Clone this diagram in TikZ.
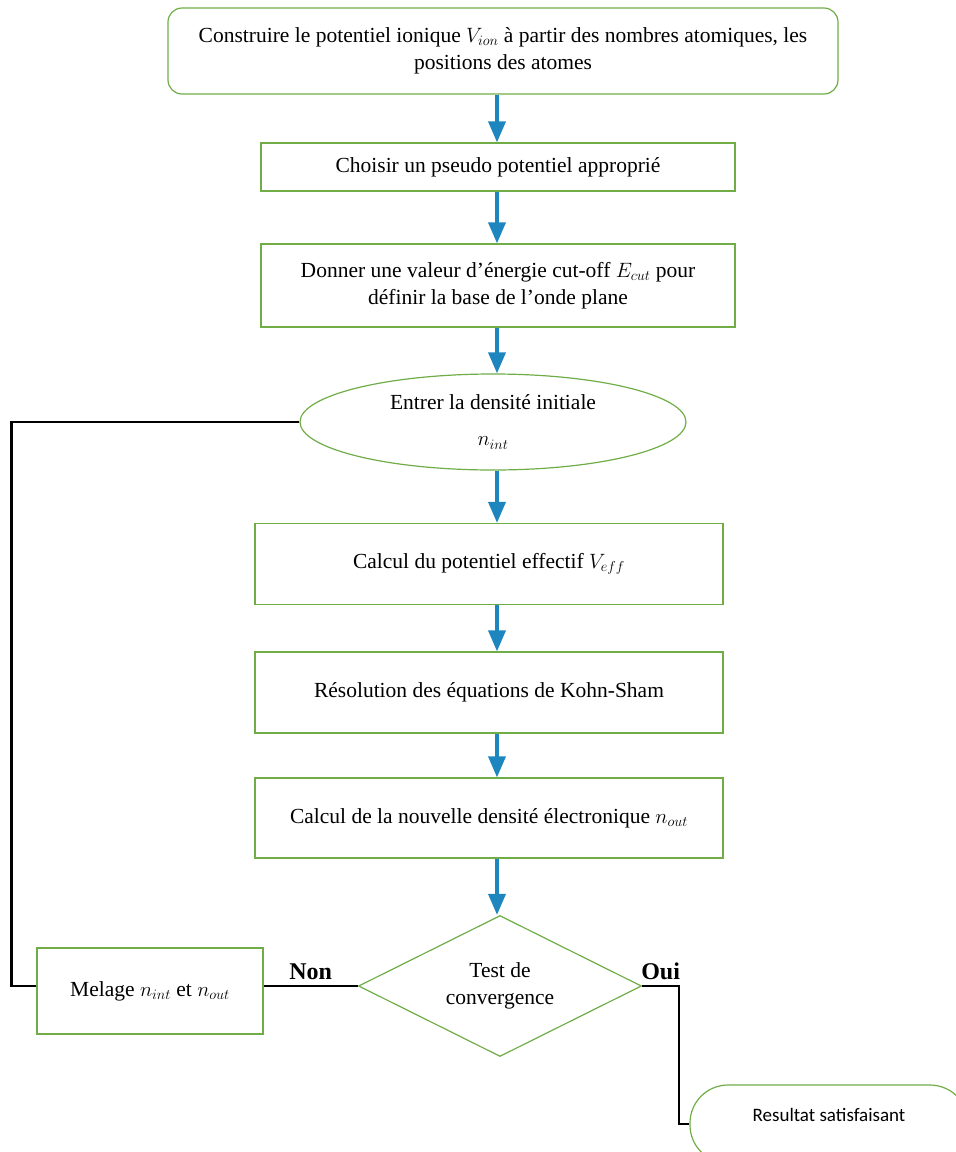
\documentclass[tikz,border=0pt]{standalone}
\usepackage{fontspec}
\setmainfont{Liberation Serif}
\newfontfamily\calibri{Carlito}
\usetikzlibrary{shapes.geometric}
\usetikzlibrary{arrows.meta}

\definecolor{boxgreen}{RGB}{112,173,71}
\definecolor{flowblue}{RGB}{30,134,190}

\tikzset{
  stepbox/.style={draw=boxgreen, line width=1.2pt, fill=white, align=center,
    minimum width=468pt, minimum height=81pt, font=\fontsize{21.5}{27}\selectfont},
  flow/.style={draw=flowblue, line width=3.5pt, -{Triangle[width=17pt,length=21pt]}},
  loopline/.style={draw=black, line width=2.6pt},
  answer/.style={above=2pt, font=\bfseries\fontsize{24}{26}\selectfont}
}

\begin{document}
\begin{tikzpicture}[x=1pt, y=-1pt]
% frame
\clip (0,0) rectangle (956,1152);
\coordinate (col) at (497,0);

% steps
\node[stepbox, rounded corners=14pt, minimum width=670pt, minimum height=86pt] (vion) at (503,51)
  {Construire le potentiel ionique $V_{ion}$ à partir des nombres atomiques, les\\ positions des atomes};
\node[stepbox, minimum width=474pt, minimum height=48pt] (pseudo) at (498,167)
  {Choisir un pseudo potentiel approprié};
\node[stepbox, minimum width=474pt, minimum height=83pt] (ecut) at (498,285.5)
  {Donner une valeur d'énergie cut-off $E_{cut}$ pour\\ définir la base de l'onde plane};
\node[stepbox, ellipse, minimum width=386pt, minimum height=96pt, font=\fontsize{21.5}{36}\selectfont] (nint) at (493,422)
  {Entrer la densité initiale\\ $n_{int}$};
\node[stepbox] (veff) at (489,564) {Calcul du potentiel effectif $V_{eff}$};
\node[stepbox] (kohn) at (489,692.5) {Résolution des équations de Kohn-Sham};
\node[stepbox, minimum height=80pt] (nout) at (489,818)
  {Calcul de la nouvelle densité électronique $n_{out}$};
\node[stepbox, diamond, aspect=2, minimum width=283pt, minimum height=141pt, inner sep=0pt] (test) at (500,986)
  {Test de\\ convergence};
\node[stepbox, minimum width=226pt, minimum height=86pt] (melage) at (150,991)
  {Melage $n_{int}$ et $n_{out}$};
\node[stepbox, rounded corners=38pt, minimum width=278pt, minimum height=78pt,
  font=\calibri\fontsize{19}{22}\selectfont] (result) at (829,1124)
  {\raisebox{18pt}{Resultat satisfaisant}};

% flow arrows
\draw[flow] (vion.south -| col) -- (pseudo.north -| col);
\draw[flow] (pseudo.south -| col) -- (ecut.north -| col);
\draw[flow] (ecut.south -| col) -- (nint.north -| col);
\draw[flow] (nint.south -| col) -- (veff.north -| col);
\draw[flow] (veff.south -| col) -- (kohn.north -| col);
\draw[flow] (kohn.south -| col) -- (nout.north -| col);
\draw[flow] (nout.south -| col) -- (test.north -| col);

% decision
\draw[loopline] (test.west) -- node[answer] {Non} (test.west -| melage.east);
\draw[loopline] (test.west -| melage.west) -- ++(-25,0) |- (nint.west);
\draw[loopline] (test.east) -| node[answer, pos=0.25] {Oui}
  ++(37,138) -- (result.west);

\end{tikzpicture}
\end{document}
